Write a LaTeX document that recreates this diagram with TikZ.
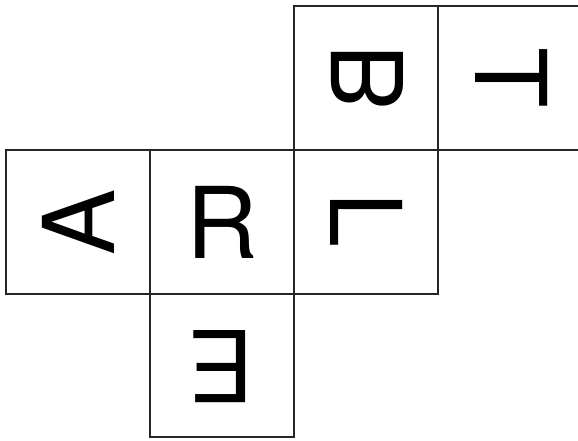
\documentclass[tikz,border=0pt]{standalone}
\usepackage{fontspec}
\setmainfont{TeX Gyre Heros}
\begin{document}
\begin{tikzpicture}[x=1pt,y=1pt,
  cell/.style={draw=black!85,line width=1.8pt},
  letter/.style={inner sep=0pt,font=\fontsize{99}{99}\selectfont}]
\useasboundingbox (0,0) rectangle (578,440);
% cells
\draw[cell] (6,146) rectangle (150,290);
\draw[cell] (150,146) rectangle (294,290);
\draw[cell] (294,146) rectangle (438,290);
\draw[cell] (294,290) rectangle (438,434);
\draw[cell] (150,3) rectangle (294,146);
\draw[cell] (578,434) -- (438,434) -- (438,290) -- (578,290);
% letters
\node[letter,rotate=90] (a) at (78,218) {A};
\node[letter] (r) at (222,218) {R};
\node[letter,rotate=-90] (l) at (367,220) {L};
\node[letter,rotate=90] (b) at (367,362) {\scalebox{-1}[1]{B}};
\node[letter,rotate=-90] (t) at (512,362) {T};
\node[letter,rotate=180] (e) at (221,73) {E};
\end{tikzpicture}
\end{document}
